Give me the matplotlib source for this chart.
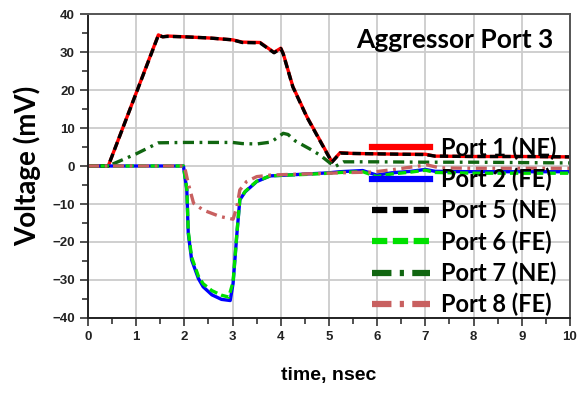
import matplotlib
matplotlib.use("Agg")
import matplotlib.pyplot as plt
from matplotlib.ticker import MultipleLocator

plt.rcParams["lines.scale_dashes"] = False

# time axis (ns) and voltages (mV) for each victim port
t_port1 = [0, 0.42, 1.46, 1.55, 1.65, 2.0, 2.5, 3.0, 3.2, 3.57, 3.86, 4.0, 4.05,
           4.25, 4.54, 4.81, 5.06, 5.23, 5.5, 6.0, 6.5, 7.0, 7.2, 8.0, 9.0, 10.0]
v_port1 = [0, 0, 34.5, 34.0, 34.2, 34.0, 33.7, 33.2, 32.6, 32.5, 29.9, 31.0, 29.6,
           20.9, 13.0, 6.8, 1.1, 3.5, 3.3, 3.2, 3.1, 3.1, 2.6, 2.5, 2.5, 2.4]

t_port5 = [0, 0.42, 1.46, 1.55, 1.65, 2.0, 2.5, 3.0, 3.2, 3.57, 3.86, 4.0, 4.05,
           4.25, 4.54, 4.81, 5.06, 5.23, 5.5, 6.0, 6.5, 7.0, 7.2, 8.0, 9.0, 10.0]
v_port5 = [0, 0, 34.4, 34.0, 34.1, 34.0, 33.7, 33.2, 32.5, 32.4, 29.8, 30.9, 29.5,
           20.8, 12.9, 6.7, 1.0, 3.4, 3.3, 3.2, 3.1, 3.0, 2.6, 2.5, 2.5, 2.4]

t_port2 = [0, 1.98, 2.05, 2.08, 2.15, 2.29, 2.39, 2.57, 2.77, 2.95, 3.01, 3.09,
           3.15, 3.26, 3.5, 3.78, 4.12, 4.54, 5.0, 5.23, 5.7, 5.99, 6.3, 6.7,
           7.0, 7.2, 8.0, 9.0, 10.0]
v_port2 = [0, 0, -6.3, -17.7, -24.7, -29.6, -31.8, -33.9, -35.1, -35.4, -30.9,
           -17.7, -8.9, -6.8, -4.1, -2.6, -2.4, -2.1, -1.8, -1.5, -1.2, -2.4,
           -1.8, -1.4, -0.9, -1.4, -1.5, -1.5, -1.5]

t_port6 = [0, 1.98, 2.05, 2.08, 2.15, 2.29, 2.39, 2.57, 2.77, 2.92, 3.01, 3.09,
           3.15, 3.26, 3.5, 3.78, 4.12, 4.54, 5.0, 5.23, 5.7, 5.99, 6.3, 6.7,
           7.0, 7.2, 8.0, 9.0, 10.0]
v_port6 = [0, 0, -6.0, -17.2, -24.0, -29.0, -31.0, -32.8, -34.0, -34.5, -30.5,
           -17.5, -8.8, -6.7, -4.0, -2.6, -2.4, -2.2, -1.9, -1.7, -1.5, -2.8,
           -2.1, -1.6, -1.1, -1.7, -1.9, -1.9, -1.9]

t_port7 = [0, 0.42, 1.0, 1.46, 2.0, 3.0, 3.2, 3.5, 3.8, 4.05, 4.15, 4.3, 4.6,
           4.81, 5.12, 5.3, 6.0, 7.0, 8.0, 9.0, 10.0]
v_port7 = [0, 0, 3.2, 6.1, 6.2, 6.2, 5.9, 5.8, 6.3, 8.6, 8.3, 6.6, 4.5,
           2.9, -0.2, 1.1, 1.1, 1.0, 1.0, 0.9, 0.8]

t_port8 = [0, 2.0, 2.08, 2.19, 2.39, 2.74, 3.01, 3.09, 3.15, 3.29, 3.5, 3.78,
           4.2, 5.0, 5.5, 5.9, 6.3, 6.7, 7.03, 7.3, 8.0, 9.0, 10.0]
v_port8 = [0, 0, -4.6, -9.8, -11.6, -13.3, -14.0, -10.7, -6.3, -4.1, -2.8, -2.4,
           -2.2, -1.9, -1.7, -1.6, -1.0, -0.3, 0.3, -0.5, -0.6, -0.6, -0.6]

x_ticks = list(range(0, 11))
y_ticks = list(range(-40, 41, 10))

fig = plt.figure(figsize=(5.77, 3.96), dpi=100)
ax = fig.add_axes([88 / 577, 78 / 396, 482 / 577, 304 / 396])

lw = 2.4
dash = (6, 3)
dash_dot = (8, 4, 2, 4)
ax.plot(t_port1, v_port1, color="#ff0000", lw=lw, label="Port 1 (NE)")
ax.plot(t_port2, v_port2, color="#0000ff", lw=lw, label="Port 2 (FE)")
ax.plot(t_port5, v_port5, color="black", lw=lw, dashes=dash, label="Port 5 (NE)")
ax.plot(t_port6, v_port6, color="#00e000", lw=lw, dashes=dash, label="Port 6 (FE)")
ax.plot(t_port7, v_port7, color="#116611", lw=lw, dashes=dash_dot, label="Port 7 (NE)")
ax.plot(t_port8, v_port8, color="#c86060", lw=lw, dashes=dash_dot, label="Port 8 (FE)")

ax.set_xlim(0, 10)
ax.set_ylim(-40, 40)
ax.set_xticks(x_ticks)
ax.set_yticks(y_ticks)
ax.xaxis.set_minor_locator(MultipleLocator(0.5))
ax.yaxis.set_minor_locator(MultipleLocator(5))
ax.grid(True, which="major", color="#cccccc", lw=1.3)
ax.set_axisbelow(True)
ax.tick_params(which="major", direction="out", length=6, width=1.2, color="#333333")
ax.tick_params(which="minor", direction="out", length=4, width=1.2, color="#333333")
for lbl in ax.get_xticklabels() + ax.get_yticklabels():
    lbl.set_fontfamily("Liberation Sans")
    lbl.set_fontweight("bold")
    lbl.set_fontsize(9.5)
    lbl.set_color("#222222")
for side in ("left", "bottom"):
    ax.spines[side].set_color("#222222")
    ax.spines[side].set_linewidth(1.4)
for side in ("top", "right"):
    ax.spines[side].set_color("#555555")
    ax.spines[side].set_linewidth(1.4)

ax.set_xlabel("time, nsec", fontfamily="Liberation Sans", fontweight="bold",
              fontsize=14, labelpad=17)
ax.set_ylabel("Voltage (mV)", fontfamily="Lato", fontweight="bold",
              fontsize=20, labelpad=8)

ax.text(0.965, 0.915, "Aggressor Port 3", transform=ax.transAxes, ha="right",
        va="center", fontfamily="Lato", fontweight="bold", fontsize=19)

leg = ax.legend(loc="upper left", bbox_to_anchor=(0.59, 0.598), frameon=False,
                prop={"family": "Lato", "weight": "bold", "size": 17},
                handlelength=2.45, handletextpad=0.47, labelspacing=0.33,
                borderpad=0, borderaxespad=0)
legend_dashes = [None, None, (11, 4), (11, 4), (14, 6, 3, 6), (14, 6, 3, 6)]
for line, pattern in zip(leg.get_lines(), legend_dashes):
    line.set_linewidth(4.5)
    if pattern is not None:
        line.set_dashes(pattern)

fig.savefig("out.png", dpi=100)
